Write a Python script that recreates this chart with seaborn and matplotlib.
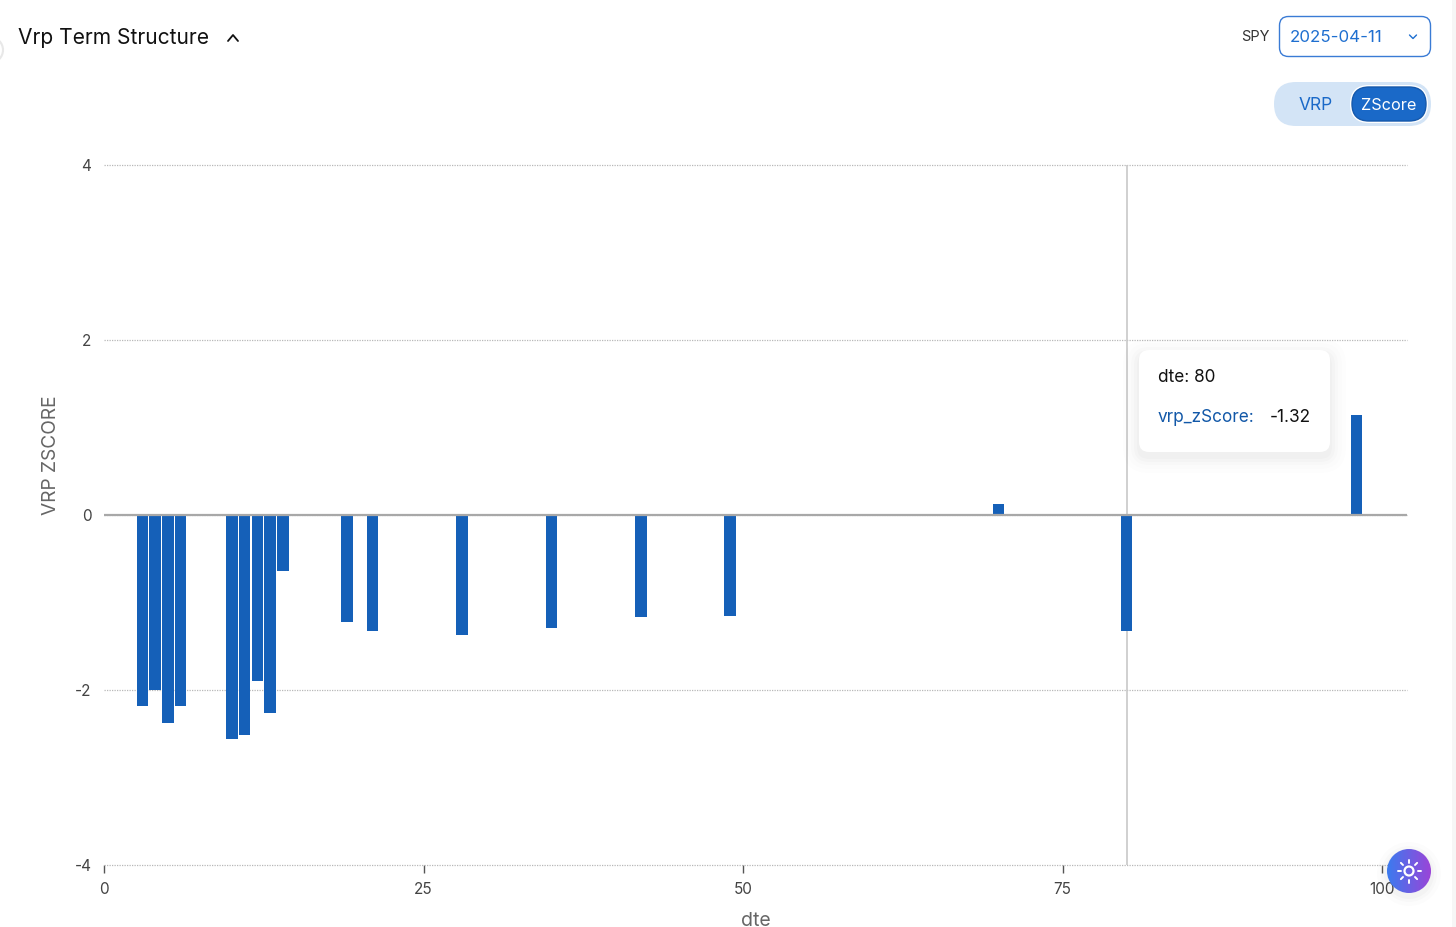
import numpy as np
import matplotlib
matplotlib.use("Agg")
import matplotlib.pyplot as plt
from matplotlib.patches import FancyBboxPatch, Circle
import seaborn as sns

dte = [3, 4, 5, 6, 10, 11, 12, 13, 14, 19, 21, 28, 35, 42, 49, 70, 80, 98]
vrp_zscore = [-2.18, -2.0, -2.38, -2.18, -2.56, -2.51, -1.9, -2.26, -0.64,
              -1.22, -1.32, -1.37, -1.29, -1.17, -1.15, 0.13, -1.32, 1.14]
x_ticks = [0, 25, 50, 75, 100]
y_ticks = [-4, -2, 0, 2, 4]
hover_dte = 80

W, H = 1456, 927
BLUE = "#1560b8"

sns.set_theme(style="white")
plt.rcParams["font.family"] = ["Inter", "DejaVu Sans"]

fig = plt.figure(figsize=(W / 100, H / 100), dpi=100, facecolor="white")
ax = fig.add_axes([104 / W, 1 - 865 / H, (1407 - 104) / W, 700 / H])

sns.barplot(x=dte, y=vrp_zscore, native_scale=True, width=0.9, color=BLUE,
            saturation=1, linewidth=0, ax=ax, zorder=3)

ax.set_xlim(0, 1303 / 12.78)
ax.set_ylim(-4, 4)
ax.set_xticks(x_ticks)
ax.set_yticks(y_ticks)
ax.set_yticklabels([str(v) for v in y_ticks])
ax.tick_params(axis="x", length=6, width=1, color="#555555", labelsize=11,
               labelcolor="#444444", pad=6, bottom=True)
ax.tick_params(axis="y", length=0, labelsize=11, labelcolor="#444444", pad=9)
ax.grid(axis="y", linestyle=(0, (1, 1)), color="#b8b8b8", linewidth=0.9)
for line in ax.get_ygridlines():
    line.set_clip_on(False)
ax.set_axisbelow(True)
sns.despine(ax=ax, left=True, bottom=True, top=True, right=True)
ax.axhline(0, color="#a8a8a8", linewidth=1.6, zorder=4)
ax.axvline(hover_dte + 0.05, color="#c8c8c8", linewidth=1.2, zorder=2)
ax.set_xlabel("dte", fontsize=14, color="#666666", labelpad=11)
ax.set_ylabel("VRP ZSCORE", fontsize=13.8, color="#666666")
ax.yaxis.set_label_coords((60 - 104) / 1303, (865 - 455) / 700)

# page chrome around the chart, drawn in pixel coordinates
ui = fig.add_axes([0, 0, 1, 1], zorder=10)
ui.set_xlim(0, W)
ui.set_ylim(H, 0)
ui.axis("off")
ui.patch.set_alpha(0)

ui.fill_between([1452, 1456], 0, H, color="#f6f6f6", lw=0)
ui.add_patch(Circle((-10, 50), 13, fc="white", ec="#e8e8e8", lw=1.5))
ui.text(18, 38, "Vrp Term Structure", fontsize=15.1, color="#111111", va="center")
ui.plot([228, 233, 238], [41, 35, 41], color="#111111", lw=1.3)

ui.text(1269.5, 37, "SPY", fontsize=10.5, color="#333333", va="center", ha="right")
ui.add_patch(FancyBboxPatch((1279.5, 16.5), 151, 40, boxstyle="round,pad=0,rounding_size=9",
                            fc="white", ec="#3a7bd5", lw=1.0))
ui.text(1290, 37.5, "2025-04-11", fontsize=12.2, color="#1f6fd0", va="center")
ui.plot([1409.5, 1413, 1416.5], [35, 38.5, 35], color="#1f6fd0", lw=1.0)

ui.add_patch(FancyBboxPatch((1274, 82), 157, 44, boxstyle="round,pad=0,rounding_size=22",
                            fc="#d3e4f6", ec="none"))
ui.add_patch(FancyBboxPatch((1350, 85), 78, 38, boxstyle="round,pad=0,rounding_size=19",
                            fc="white", ec="none"))
ui.add_patch(FancyBboxPatch((1352, 87), 74, 34, boxstyle="round,pad=0,rounding_size=17",
                            fc="#1a69c8", ec="#1558ab", lw=1))
ui.text(1315.5, 105, "VRP", fontsize=12.5, color="#1a69c8", va="center", ha="center")
ui.text(1389, 105, "ZScore", fontsize=11.7, color="white", va="center", ha="center")

# tooltip with a soft shadow
for grow, alpha in [(16, 0.006), (12, 0.008), (8, 0.011), (5, 0.014), (2, 0.016)]:
    ui.add_patch(FancyBboxPatch((1139 - grow, 350 - grow + 5), 191 + 2 * grow, 102 + 2 * grow,
                                boxstyle="round,pad=0,rounding_size=%d" % (10 + grow),
                                fc="black", ec="none", alpha=alpha))
ui.add_patch(FancyBboxPatch((1139, 350), 191, 102, boxstyle="round,pad=0,rounding_size=10",
                            fc="white", ec="none"))
ui.text(1158, 378, "dte: 80", fontsize=12.4, color="#111111", va="center")
ui.text(1158, 417, "vrp_zScore:", fontsize=12.4, color="#1258a8", va="center")
ui.text(1311, 417, "-1.32", fontsize=12.4, color="#111111", va="center", ha="right")

# theme button with gradient fill
cx, cy, r = 1409, 871, 22
for grow, alpha in [(10, 0.01), (6, 0.015), (3, 0.02)]:
    ui.add_patch(Circle((cx, cy + 3), r + grow, fc="black", ec="none", alpha=alpha))
grad = np.linspace(0, 1, 64).reshape(1, -1)
cmap = matplotlib.colors.LinearSegmentedColormap.from_list("btn", ["#3b7bef", "#9a45d8"])
img = ui.imshow(grad, extent=(cx - r, cx + r, cy + r, cy - r), cmap=cmap, aspect="auto", zorder=3)
img.set_clip_path(Circle((cx, cy), r, transform=ui.transData))
ui.set_xlim(0, W)
ui.set_ylim(H, 0)
ui.add_patch(Circle((cx, cy), 4.5, fc="none", ec="white", lw=1.6, zorder=4))
for ang in np.arange(0, 360, 45):
    a = np.deg2rad(ang)
    ui.plot([cx + 8.5 * np.cos(a), cx + 11.5 * np.cos(a)],
            [cy + 8.5 * np.sin(a), cy + 11.5 * np.sin(a)],
            color="white", lw=1.4, solid_capstyle="round", zorder=4)

fig.savefig("out.png", dpi=100, facecolor="white")
